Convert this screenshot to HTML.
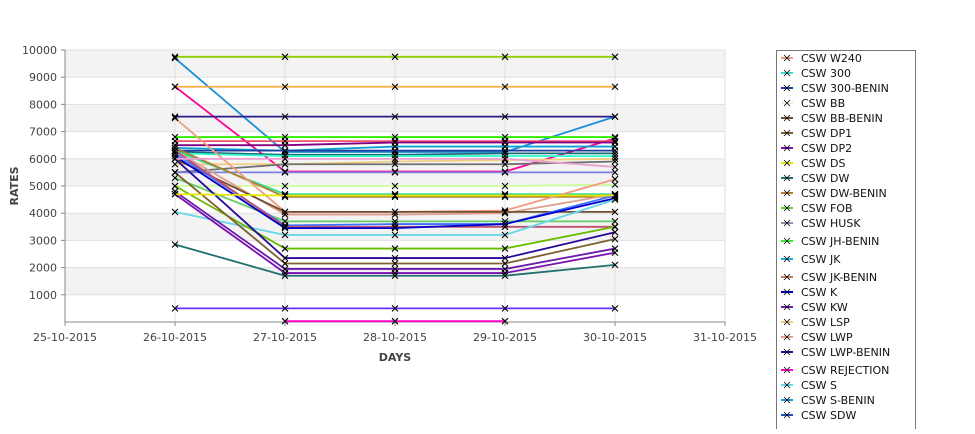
<!DOCTYPE html>
<html><head><meta charset="utf-8"><style>
body{margin:0;background:#fff;font-family:"Liberation Sans","DejaVu Sans",sans-serif}
svg text{font-family:"DejaVu Sans","Liberation Sans",sans-serif}
</style></head><body>
<svg id="c" width="975" height="429" xmlns="http://www.w3.org/2000/svg"></svg>
<script>
const days=['25-10-2015','26-10-2015','27-10-2015','28-10-2015','29-10-2015','30-10-2015','31-10-2015'];
const yTicks=[1000,2000,3000,4000,5000,6000,7000,8000,9000,10000];
const seriesNames=['CSW  W240','CSW 300','CSW 300-BENIN','CSW BB','CSW BB-BENIN','CSW DP1','CSW DP2','CSW DS','CSW DW','CSW DW-BENIN','CSW FOB','CSW HUSK','CSW JH-BENIN','CSW JK','CSW JK-BENIN','CSW K','CSW KW','CSW LSP','CSW LWP','CSW LWP-BENIN','CSW REJECTION','CSW S','CSW S-BENIN','CSW SDW'];
const legendColors=['#f49a80','#33e0d0','#1f3f9f','#eeeedd','#705030','#806030','#7a10b0','#e6e600','#207070','#b08030','#66cc33','#9090b0','#33ee33','#1bb0e0','#c08060','#0000cc','#6a1aaa','#f0d080','#e0a090','#2a0a9a','#ff00cc','#66d8e8','#0fa0d0','#1f50c0'];
const seriesColors=['#8fce00','#1b8fd8','#f5b041','#ff0099','#2e1a8a','#33ee00','#f0506e','#800080','#0fa0d0','#1f3f9f','#1a6a7a','#33ffcc','#f0d080','#707070','#8080e0','#ccff99','#33dd99','#b08030','#f49a80','#e0a090','#705030','#66cc66','#4070ff','#c05070','#0000cc','#66d8e8','#66bb00','#2a0a9a','#806030','#6a1aaa','#7a10b0','#207070','#6633ff','#ff00cc','#e6e600','#e8a0d0'];
const s01=[9750,9750,9750,9750,9750];
const s02=[9700,6250,6250,6250,7550];
const s03=[8650,8650,8650,8650,8650];
const s04=[8650,5530,5530,5530,6750];
const s05=[7550,7550,7550,7550,7550];
const s06=[6800,6800,6800,6800,6800];
const s07=[6650,6650,6650,6650,6650];
const s08=[6500,6500,6600,6600,6600];
const s09=[6400,6300,6450,6450,6450];
const s10=[6300,6300,6300,6300,6300];
const s11=[6250,6150,6150,6200,6200];
const s12=[6200,6100,6100,6100,6100];
const s13=[5800,5800,5900,5950,6000];
const s14=[5500,5800,5800,5800,5900];
const s15=[5500,5500,5500,5500,5500];
const s16=[5000,5000,5000,5000,5050];
const s17=[6300,4700,4700,4700,4700];
const s18=[6400,4600,4600,4600,4600];
const s19=[7500,4050,4050,4100,5250];
const s20=[6300,3950,3950,4000,4700];
const s21=[6000,4050,4050,4050,4050];
const s22=[5300,3700,3700,3700,3700];
const s23=[6200,3550,3600,3600,4650];
const s24=[6300,3500,3500,3500,3500];
const s25=[6100,3450,3450,3600,4550];
const s26=[4050,3200,3200,3200,4500];
const s27=[5000,2700,2700,2700,3500];
const s28=[6000,2350,2350,2350,3300];
const s29=[5500,2150,2150,2150,3050];
const s30=[4800,1950,1950,1950,2700];
const s31=[4700,1800,1800,1800,2550];
const s32=[2850,1700,1700,1700,2100];
const s33=[500,500,500,500,500];
const s34=[null,30,30,30,null];
const s35=[4700,4650,4650,4650,4650];
const s36=[6000,6000,6000,6000,5700];
const allSeries=[s01,s02,s03,s04,s05,s06,s07,s08,s09,s10,s11,s12,s13,s14,s15,s16,s17,s18,s19,s20,s21,s22,s23,s24,s25,s26,s27,s28,s29,s30,s31,s32,s33,s34,s35,s36];

const svg=document.getElementById('c');const NS='http://www.w3.org/2000/svg';
function mk(t,a,p){const e=document.createElementNS(NS,t);for(const k in a)e.setAttribute(k,a[k]);(p||svg).appendChild(e);return e;}
const L=65,R=725,T=50,B=322;
function xs(i){return L+i*(R-L)/(days.length-1);}
function ys(v){return B-(v/10000)*(B-T);}
for(let v=0;v<10000;v+=1000){const odd=(v/1000)%2===1;
 const r=mk('rect',{x:L,y:ys(v+1000),width:R-L,height:ys(v)-ys(v+1000),fill:odd?'#f3f3f3':'#fff'});
 }
yTicks.forEach(v=>{const l=mk('line',{x1:L,x2:R,y1:ys(v),y2:ys(v),stroke:'#e0e0e0'});
 
 const t=mk('text',{x:L-8,y:ys(v)+4,'text-anchor':'end','font-size':11,fill:'#444'});t.textContent=v;
 
 mk('line',{x1:L-4,x2:L,y1:ys(v),y2:ys(v),stroke:'#888'});});
days.forEach((d,i)=>{const l=mk('line',{x1:xs(i),x2:xs(i),y1:T,y2:B,stroke:'#e0e0e0'});
 
 mk('line',{x1:xs(i),x2:xs(i),y1:B,y2:B+4,stroke:'#888'});
 const t=mk('text',{x:xs(i),y:341,'text-anchor':'middle','font-size':11,fill:'#444'});t.textContent=d;
 });
mk('line',{x1:L,x2:L,y1:T,y2:B,stroke:'#888'});
mk('line',{x1:L,x2:R,y1:B,y2:B,stroke:'#888'});
let t=mk('text',{x:395,y:361,'text-anchor':'middle','font-size':11,'font-weight':'bold',fill:'#444'});t.textContent='DAYS';

t=mk('text',{x:18,y:186,'text-anchor':'middle','font-size':11,'font-weight':'bold',fill:'#444',transform:'rotate(-90 18 186)'});t.textContent='RATES';

allSeries.forEach((s,si)=>{const g=mk('g',{});
 
 let d='';s.forEach((v,i)=>{if(v==null)return;d+=(d?'L':'M')+xs(i+1)+' '+ys(v);});
 mk('path',{d:d,fill:'none',stroke:seriesColors[si%seriesColors.length],'stroke-width':1.8},g);
 s.forEach((v,i)=>{if(v==null)return;const x=xs(i+1),y=ys(v);
  const m=mk('path',{d:`M${x-3} ${y-3}L${x+3} ${y+3}M${x-3} ${y+3}L${x+3} ${y-3}`,stroke:'#000','stroke-width':1.1},g);
  });});
const lg=mk('g',{});
mk('rect',{x:776.5,y:50.5,width:139,height:390,fill:'#fff',stroke:'#777'},lg);
const legY=[58,73,88,103,118,133,148,163,178,193,208,223,241,259,277,292,307,322,337,352,370,385,400,415];
seriesNames.forEach((n,i)=>{const y=legY[i];
 const e=mk('g',{},lg);
 mk('line',{x1:781,x2:793,y1:y,y2:y,stroke:legendColors[i],'stroke-width':2},e);
 mk('path',{d:`M784 ${y-3}L790 ${y+3}M784 ${y+3}L790 ${y-3}`,stroke:'#000','stroke-width':0.8},e);
 const tx=mk('text',{x:801,y:y+4,'font-size':11,fill:'#111'},e);tx.textContent=n;});
</script>
</body></html>
